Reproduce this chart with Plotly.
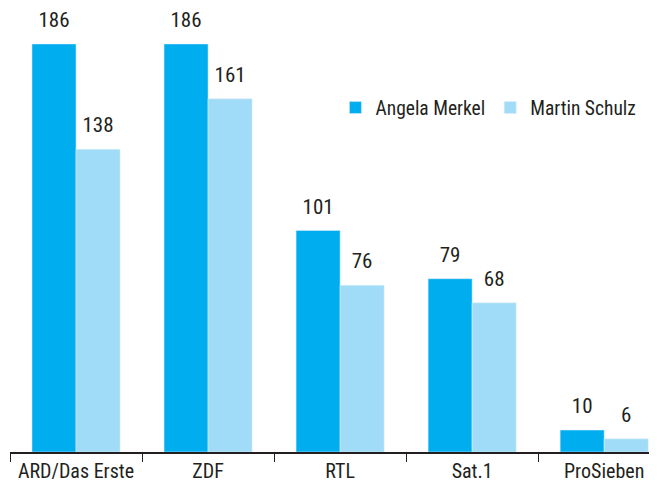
import plotly.graph_objects as go

sender = ["ARD/Das Erste", "ZDF", "RTL", "Sat.1", "ProSieben"]
merkel = [186, 186, 101, 79, 10]
schulz = [138, 161, 76, 68, 6]

font_fam = "Roboto Condensed, Liberation Sans Narrow, Arial Narrow, sans-serif"
txt_col = "#231F20"
dunkel = "#00AEEF"
hell = "#A0DCF7"

fig = go.Figure()
fig.add_trace(go.Bar(x=sender, y=merkel, name="Angela Merkel", marker_color=dunkel))
fig.add_trace(go.Bar(x=sender, y=schulz, name="Martin Schulz", marker_color=hell))

# Wertebeschriftung ueber den Balken (unsichtbare Marker fuer Abstand)
for werte in (merkel, schulz):
    fig.add_trace(go.Scatter(x=sender, y=werte, text=werte, mode="markers+text",
                             textposition="top center", showlegend=False, hoverinfo="skip",
                             marker=dict(size=17, opacity=0), cliponaxis=False,
                             textfont=dict(size=21, color=txt_col)))

# die Seite hat 8px Rand im body -> Raender ausgleichen
fig.update_layout(
    width=657, height=491,
    margin=dict(l=2, r=8, t=0, b=47),
    barmode="group", bargap=0.333, bargroupgap=0,
    scattermode="group", scattergap=0.333,
    plot_bgcolor="white", paper_bgcolor="white",
    font=dict(family=font_fam, size=20, color=txt_col),
    legend=dict(orientation="h", x=0.503, y=0.775, xanchor="left", yanchor="middle",
                font=dict(size=19.5), itemwidth=30, traceorder="normal"),
)
fig.update_xaxes(range=[-0.5, 4.4], automargin=False, showline=True, linecolor=txt_col,
                 linewidth=2, ticks="outside", tickson="boundaries", ticklen=8,
                 tickcolor=txt_col, tickwidth=1, tickfont=dict(size=20))
fig.update_yaxes(range=[0, 202.4], visible=False, automargin=False)

fig.write_html("out.html")
